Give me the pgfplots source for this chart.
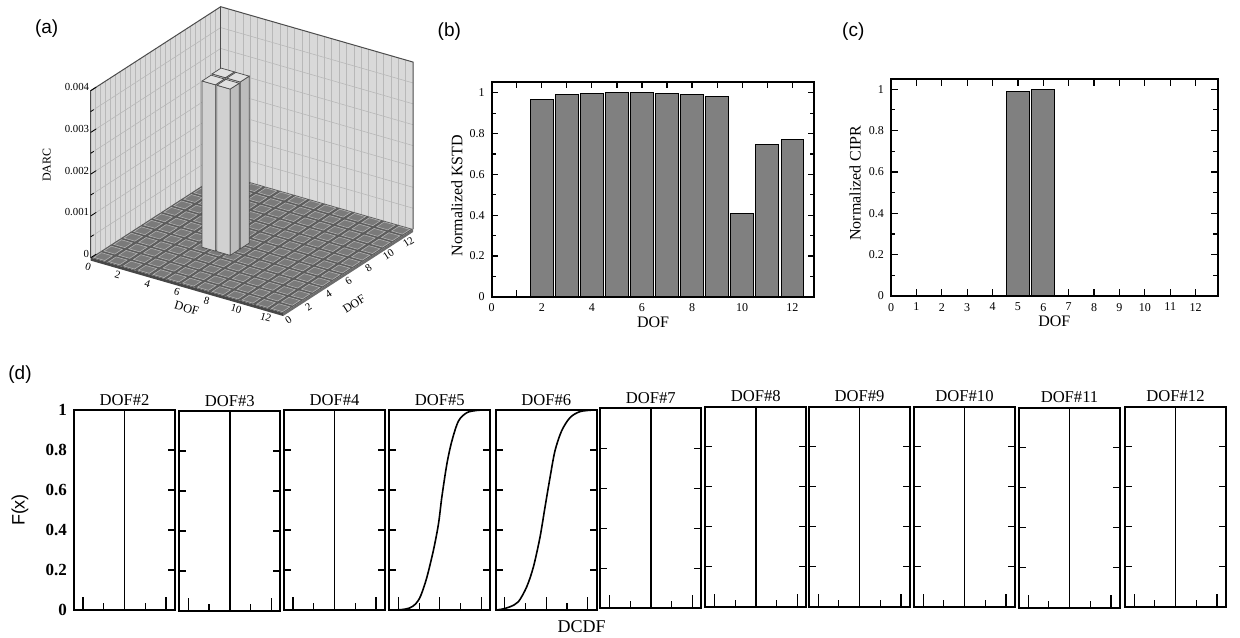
\documentclass[border=0pt]{standalone}
\usepackage{fontspec}
\setmainfont{Liberation Serif}
\setsansfont{Liberation Sans}
\usepackage{pgfplots}
\pgfplotsset{compat=1.18}

\definecolor{barfill}{gray}{0.5}
\definecolor{wallc}{gray}{0.85}
\definecolor{wallgrid}{gray}{0.72}
\definecolor{floorc}{gray}{0.36}
\definecolor{slabc}{gray}{0.28}
\definecolor{tilec}{gray}{0.48}
\definecolor{tileedge}{gray}{0.70}
\definecolor{edgec}{gray}{0.30}
\definecolor{colL}{gray}{0.82}
\definecolor{colR}{gray}{0.74}
\definecolor{colT}{gray}{0.88}

% one DARC column: x centre, y centre, height (DARC value)
\newcommand\darcbar[3]{%
 \pgfmathsetmacro\xa{#1-0.45}\pgfmathsetmacro\xb{#1+0.45}%
 \pgfmathsetmacro\ya{#2-0.45}\pgfmathsetmacro\yb{#2+0.45}%
 \pgfmathsetmacro\hz{#3*1000}%
 \edef\temp{\noexpand\addplot3[fill=colL, draw=edgec, line width=0.35pt] coordinates {(\xa,\ya,0) (\xb,\ya,0) (\xb,\ya,\hz) (\xa,\ya,\hz) (\xa,\ya,0)};
 \noexpand\addplot3[fill=colR, draw=edgec, line width=0.35pt] coordinates {(\xb,\ya,0) (\xb,\yb,0) (\xb,\yb,\hz) (\xb,\ya,\hz) (\xb,\ya,0)};
 \noexpand\addplot3[fill=colT, draw=edgec, line width=0.35pt] coordinates {(\xa,\ya,\hz) (\xb,\ya,\hz) (\xb,\yb,\hz) (\xa,\yb,\hz) (\xa,\ya,\hz)};}%
 \temp}

\pgfplotsset{
 barpanel/.style={anchor=south west, scale only axis, ybar, bar width=0.9,
  tick align=inside, xtick pos=both, ytick pos=both,
  major tick length=3.3pt, minor tick length=2.2pt,
  axis line style={line width=0.9pt}, tick style={black, line width=0.6pt},
  tick label style={font=\fontsize{6}{7}\selectfont},
  label style={font=\fontsize{8}{9.5}\selectfont},
  xmin=0, ymin=0, xtick={0,1,2,3,4,5,6,7,8,9,10,11,12},
  ytick={0,0.2,0.4,0.6,0.8,1}, yticklabels={0,0.2,0.4,0.6,0.8,1},
  minor ytick={0.1,0.3,0.5,0.7,0.9}},
 cdf/.style={anchor=south west, scale only axis, width=50.5pt, height=100pt,
  xmin=0, xmax=1, ymin=0, ymax=1,
  xtick={0.295,0.705}, xticklabels={}, xtick pos=left,
  ytick={0.2,0.4,0.6,0.8}, yticklabels={}, ytick pos=both,
  tick align=inside, major tick length=3.5pt,
  axis line style={line width=0.9pt}, tick style={black, line width=0.6pt},
  every axis title shift=0pt,
  title style={font=\fontsize{8.3}{9}\selectfont, at={(0.5,1)}, anchor=south, yshift=0pt, inner sep=2.2pt},
  clip=false},
 cdfline/.style={black, line width=0.8pt},
}
\newcommand\tallticks{%
 \draw[black, line width=0.6pt] (axis cs:0.09,0) -- ++(0,6.5pt);
 \draw[black, line width=0.6pt] (axis cs:0.5,0) -- ++(0,6.5pt);
 \draw[black, line width=0.6pt] (axis cs:0.91,0) -- ++(0,6.5pt);}
\newcommand\steppanel[3]{%
 \begin{axis}[cdf, at={(#1pt,#2pt)}, title={DOF\##3}]
 \addplot[cdfline] coordinates {(0,0) (0.5,0) (0.5,1) (1,1)};
 \tallticks
 \end{axis}}

\begin{document}
\begin{tikzpicture}
\useasboundingbox (0,0) rectangle (620pt,318.5pt);

% ---------------- (a) ----------------
\begin{axis}[at={(45.35pt,189.65pt)}, anchor=origin,
  x={(7.40pt,-2.13pt)}, y={(5.0pt,3.23pt)}, z={(0pt,20.875pt)},
  xmin=0, xmax=13, ymin=0, ymax=13, zmin=0, zmax=4,
  hide axis, clip=false]
 % walls
 \fill[wallc] (axis cs:0,0,0) -- (axis cs:0,13,0) -- (axis cs:0,13,4) -- (axis cs:0,0,4) -- cycle;
 \fill[wallc] (axis cs:0,13,0) -- (axis cs:13,13,0) -- (axis cs:13,13,4) -- (axis cs:0,13,4) -- cycle;
 \pgfplotsinvokeforeach{0.5,1,...,12.5}{%
  \draw[wallgrid, line width=0.3pt] (axis cs:0,#1,0) -- (axis cs:0,#1,4);
  \draw[wallgrid, line width=0.3pt] (axis cs:#1,13,0) -- (axis cs:#1,13,4);}
 \pgfplotsinvokeforeach{0.5,1,...,3.5}{%
  \draw[wallgrid, line width=0.3pt] (axis cs:0,0,#1) -- (axis cs:0,13,#1) -- (axis cs:13,13,#1);}
 \draw[edgec, line width=0.5pt] (axis cs:0,0,0) -- (axis cs:0,0,4) -- (axis cs:0,13,4) -- (axis cs:13,13,4) -- (axis cs:13,13,0);
 \draw[edgec, line width=0.4pt] (axis cs:0,13,0) -- (axis cs:0,13,4);
 % floor slab
 \fill[slabc] (axis cs:0,0,0) -- (axis cs:13,0,0) -- (axis cs:13,0,-0.07) -- (axis cs:0,0,-0.07) -- cycle;
 \fill[slabc!80!white] (axis cs:13,0,0) -- (axis cs:13,13,0) -- (axis cs:13,13,-0.07) -- (axis cs:13,0,-0.07) -- cycle;
 \fill[floorc] (axis cs:0,0,0) -- (axis cs:13,0,0) -- (axis cs:13,13,0) -- (axis cs:0,13,0) -- cycle;
 % near-zero DARC tiles
 \pgfplotsforeachungrouped \i in {0,...,12}{%
  \pgfplotsforeachungrouped \j in {0,...,12}{%
   \pgfmathsetmacro\ta{\i+0.13}\pgfmathsetmacro\tb{\i+0.87}%
   \pgfmathsetmacro\sa{\j+0.13}\pgfmathsetmacro\sb{\j+0.87}%
   \edef\temp{\noexpand\filldraw[fill=tilec, draw=tileedge, line width=0.3pt] (axis cs:\ta,\sa,0) -- (axis cs:\tb,\sa,0) -- (axis cs:\tb,\sb,0) -- (axis cs:\ta,\sb,0) -- cycle;}%
   \temp}}
 % DARC columns (DOF 5 and 6), back to front
 \darcbar{4.9}{6.0}{0.00400}
 \darcbar{4.9}{5.0}{0.00398}
 \darcbar{5.9}{6.0}{0.00400}
 \darcbar{5.9}{5.0}{0.00398}
 % z ticks
 \pgfplotsinvokeforeach{0,1,2,3,4}{\draw[black, line width=0.4pt] (axis cs:0,0,#1) -- (axis cs:0,0.55,#1);}
 \pgfplotsinvokeforeach{0.5,1.5,2.5,3.5}{\draw[black, line width=0.4pt] (axis cs:0,0,#1) -- (axis cs:0,0.3,#1);}
 \node[anchor=base east, inner sep=0.6pt, font=\fontsize{5.4}{6}\selectfont] at (axis cs:0,0,0) {0};
 \node[anchor=base east, inner sep=0.6pt, font=\fontsize{5.4}{6}\selectfont] at (axis cs:0,0,1) {0.001};
 \node[anchor=base east, inner sep=0.6pt, font=\fontsize{5.4}{6}\selectfont] at (axis cs:0,0,2) {0.002};
 \node[anchor=base east, inner sep=0.6pt, font=\fontsize{5.4}{6}\selectfont] at (axis cs:0,0,3) {0.003};
 \node[anchor=base east, inner sep=0.6pt, font=\fontsize{5.4}{6}\selectfont] at (axis cs:0,0,4) {0.004};
 \pgfplotsinvokeforeach{0,2,...,12}{%
  \node[rotate=-16, yshift=-4.5pt, inner sep=0pt, font=\fontsize{5.4}{6}\selectfont] at (axis cs:#1,0,0) {#1};
  \node[rotate=33, yshift=-4.2pt, xshift=0.5pt, inner sep=0pt, font=\fontsize{5.4}{6}\selectfont] at (axis cs:13,#1,0) {#1};}
\end{axis}
\node[rotate=90, font=\fontsize{6}{7}\selectfont] at (23.35pt,236pt) {DARC};
\node[rotate=-16, font=\fontsize{6.2}{7}\selectfont] at (93.35pt,164.35pt) {DOF};
\node[rotate=33, inner sep=0pt, font=\fontsize{6}{7}\selectfont] at (177pt,166.5pt) {DOF};

% ---------------- (b) ----------------
\begin{axis}[barpanel, at={(245.85pt,170.15pt)}, width=161.3pt, height=107.5pt,
  xmax=12.88, ymax=1.054,
  xticklabels={0,,2,,4,,6,,8,,10,,12},
  xlabel={DOF}, ylabel={Normalized KSTD},
  xlabel style={at={(axis description cs:0.5,-0.118)}, anchor=center},
  ylabel style={at={(axis description cs:-0.108,0.47)}, anchor=center}]
 \addplot[fill=barfill, draw=black, line width=0.5pt] coordinates {
  (2,0.967) (3,0.993) (4,0.997) (5,1.000) (6,1.000) (7,0.998)
  (8,0.993) (9,0.980) (10,0.406) (11,0.748) (12,0.771)};
\end{axis}

% ---------------- (c) ----------------
\begin{axis}[barpanel, at={(445.5pt,170.5pt)}, width=163.35pt, height=108.35pt,
  xmax=12.87, ymax=1.048,
  xticklabels={0,1,2,3,4,5,6,7,8,9,10,11,12},
  xlabel={DOF}, ylabel={Normalized CIPR},
  xlabel style={at={(axis description cs:0.5,-0.118)}, anchor=center},
  ylabel style={at={(axis description cs:-0.110,0.52)}, anchor=center}]
 \addplot[fill=barfill, draw=black, line width=0.5pt] coordinates {(5,0.989) (6,1.000)};
\end{axis}

% ---------------- (d) ----------------
\begin{axis}[cdf, at={(37pt,13.5pt)}, title={DOF\#2},
  ytick={0,0.2,0.4,0.6,0.8,1}, yticklabels={0,0.2,0.4,0.6,0.8,1},
  ytick pos=right, yticklabel pos=left,
  yticklabel style={font=\fontsize{8.5}{9}\selectfont\bfseries}]
 \addplot[cdfline] coordinates {(0,0) (0.5,0) (0.5,1) (1,1)};
 \tallticks
\end{axis}
\steppanel{89.65}{13}{3}
\steppanel{142}{13.5}{4}
\begin{axis}[cdf, at={(194.65pt,13.5pt)}, title={DOF\#5}]
 \addplot[cdfline, smooth] coordinates {(0,0) (0.12,0.002) (0.20,0.010) (0.26,0.030) (0.31,0.070)
  (0.37,0.160) (0.437,0.299) (0.487,0.431) (0.520,0.564) (0.570,0.730) (0.620,0.846)
  (0.685,0.945) (0.769,0.987) (0.868,0.998) (0.918,1.0) (1,1)};
 \tallticks
\end{axis}
\begin{axis}[cdf, at={(247.85pt,13.5pt)}, title={DOF\#6}]
 \addplot[cdfline, smooth] coordinates {(0,0) (0.06,0.004) (0.141,0.016) (0.224,0.041) (0.307,0.116)
  (0.373,0.215) (0.439,0.365) (0.488,0.514) (0.538,0.663) (0.587,0.796) (0.653,0.896)
  (0.736,0.962) (0.835,0.992) (0.967,1.0) (1,1)};
 \tallticks
\end{axis}
\steppanel{300.15}{14.35}{7}
\steppanel{352.65}{15.15}{8}
\steppanel{404.5}{15.15}{9}
\steppanel{457}{15.15}{10}
\steppanel{509.5}{14.65}{11}
\steppanel{562.5}{15.15}{12}
\node[rotate=90, font=\sffamily\fontsize{9}{10}\selectfont] at (10pt,63.5pt) {F(x)};
\node[font=\fontsize{9}{10}\selectfont] at (290.85pt,5.15pt) {DCDF};

% panel letters
\node[font=\sffamily\fontsize{9.5}{11}\selectfont] at (23.35pt,304.35pt) {(a)};
\node[font=\sffamily\fontsize{9.5}{11}\selectfont] at (224.65pt,302.65pt) {(b)};
\node[font=\sffamily\fontsize{9.5}{11}\selectfont] at (426.65pt,302.65pt) {(c)};
\node[font=\sffamily\fontsize{9.5}{11}\selectfont] at (10pt,131pt) {(d)};
\end{tikzpicture}
\end{document}
